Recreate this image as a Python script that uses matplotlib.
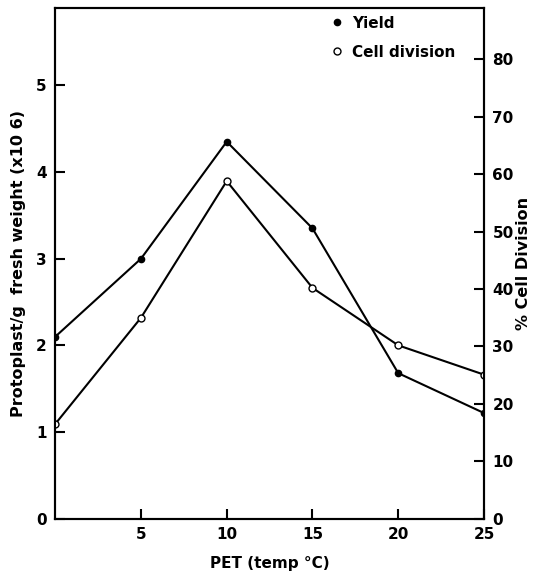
import numpy as np
import matplotlib.pyplot as plt
from matplotlib.lines import Line2D

temp = [0, 5, 10, 15, 20, 25]
yield_vals = [2.1, 3.0, 4.35, 3.35, 1.68, 1.22]
cell_div = [16.5, 35.0, 58.8, 40.2, 30.2, 25.1]

plt.rcParams['font.family'] = ['DejaVu Sans']
plt.rcParams['font.weight'] = 'bold'

fig = plt.figure(figsize=(5.36, 5.81), dpi=100)
ax = fig.add_axes([0.103, 0.107, 0.800, 0.879])
ax2 = ax.twinx()

ax.plot(temp, yield_vals, color='black', lw=1.5, marker='o', ms=4.5,
        mfc='black', mec='black')
ax2.plot(temp, cell_div, color='black', lw=1.5, marker='o', ms=5,
         mfc='white', mec='black', mew=1)

ax.set_xlim(0, 25)
ax.set_ylim(0, 5.89)
ax2.set_ylim(0, 88.9)

ax.set_xticks([5, 10, 15, 20, 25])
ax.set_yticks([0, 1, 2, 3, 4, 5])
ax2.set_yticks([0, 10, 20, 30, 40, 50, 60, 70, 80])

for a in (ax, ax2):
    a.tick_params(direction='in', length=7, width=1.5, labelsize=11)
    for s in a.spines.values():
        s.set_linewidth(1.5)
ax.tick_params(axis='x', pad=6)
ax.tick_params(axis='y', pad=6)
ax2.tick_params(axis='y', pad=6)

ax.set_xlabel('PET (temp °C)', fontsize=11, fontweight='bold', labelpad=10)
ax.set_ylabel('Protoplast/g  fresh weight (x10 6)', fontsize=11.5,
              fontweight='bold', labelpad=7)
ax2.set_ylabel('% Cell Division', fontsize=11.5, fontweight='bold', labelpad=2)

handles = [
    Line2D([], [], ls='none', marker='o', ms=4.5, mfc='black', mec='black'),
    Line2D([], [], ls='none', marker='o', ms=5, mfc='white', mec='black'),
]
ax2.legend(handles, ['Yield', 'Cell division'], loc='upper left',
           bbox_to_anchor=(0.607, 1.012), frameon=False, fontsize=11,
           handlelength=1.0, handletextpad=0.5, labelspacing=0.9)

fig.savefig('out.png', dpi=100)
